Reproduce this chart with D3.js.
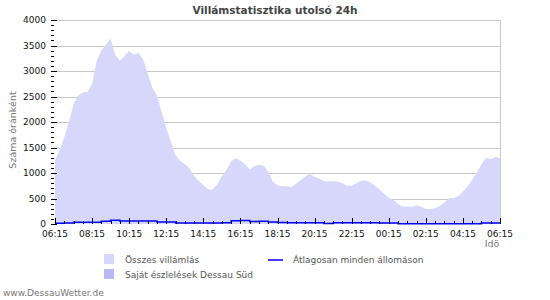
<!doctype html>
<html lang="hu">
<head>
<meta charset="utf-8">
<script src="https://cdnjs.cloudflare.com/ajax/libs/d3/7.8.5/d3.min.js"></script>
<style>
  body { margin: 0; background: #fff; }
  svg text { font-family: "DejaVu Sans", Verdana, sans-serif; }
</style>
</head>
<body>
<script>
// összes villámlás, 15 percenként 06:15-tól 06:15-ig
var totalStrikes = [1250, 1450, 1700, 2000, 2350, 2520, 2580, 2590, 2750, 3200, 3400, 3520, 3630,
  3320, 3200, 3300, 3390, 3320, 3360, 3230, 2950, 2670, 2520, 2200, 1880, 1620, 1350, 1240, 1170,
  1100, 940, 850, 760, 680, 670, 780, 930, 1060, 1230, 1290, 1240, 1170, 1070, 1130, 1160, 1140,
  1030, 830, 760, 740, 740, 720, 790, 860, 935, 980, 925, 890, 840, 840, 840, 835, 800, 750, 750,
  800, 845, 860, 820, 750, 680, 590, 520, 470, 390, 345, 340, 340, 360, 340, 295, 295, 310, 355,
  420, 505, 510, 550, 630, 730, 870, 1010, 1170, 1300, 1270, 1320, 1290];

// saját észlelések (nem látható a képen)
var ownStrikes = [0, 0, 0, 0, 0, 0, 0, 0, 0, 0, 0, 0, 0, 0, 0, 0, 0, 0, 0, 0, 0, 0, 0, 0, 0,
  0, 0, 0, 0, 0, 0, 0, 0, 0, 0, 0, 0, 0, 0, 0, 0, 0, 0, 0, 0, 0, 0, 0, 0];

// átlag minden állomáson, 30 percenként
var avgStations = [15, 20, 35, 35, 35, 55, 75, 60, 60, 60, 60, 40, 40, 20, 20, 20, 20, 20, 25, 65,
  70, 50, 55, 40, 30, 25, 25, 25, 25, 10, 25, 25, 25, 25, 25, 20, 20, 5, 5, 5, 5, 5, 5, 5, 5, 5,
  20, 20, 20];

var xTickLabels = ["06:15", "08:15", "10:15", "12:15", "14:15", "16:15", "18:15", "20:15",
  "22:15", "00:15", "02:15", "04:15", "06:15"];
var yTicks = [0, 500, 1000, 1500, 2000, 2500, 3000, 3500, 4000];

var width = 550, height = 300;
var plotLeft = 55, plotRight = 500, plotTop = 20, plotBottom = 224;

var svg = d3.select("body").append("svg")
    .attr("width", width)
    .attr("height", height);

var x = d3.scaleLinear().domain([0, 24]).range([plotLeft, plotRight]);
var y = d3.scaleLinear().domain([0, 4000]).range([plotBottom, plotTop]);

// gridlines
svg.append("g").selectAll("line")
  .data(yTicks.filter(d => d > 0))
  .join("line")
    .attr("x1", plotLeft).attr("x2", plotRight)
    .attr("y1", d => Math.round(y(d)) + 0.5).attr("y2", d => Math.round(y(d)) + 0.5)
    .attr("stroke", "#c8c8c8");

svg.append("line")
    .attr("x1", plotRight + 0.5).attr("x2", plotRight + 0.5)
    .attr("y1", plotTop).attr("y2", plotBottom)
    .attr("stroke", "#c8c8c8");

// areas
var area15 = d3.area()
    .x((d, i) => x(i / 4))
    .y0(plotBottom)
    .y1(d => y(d));

svg.append("path")
    .datum(totalStrikes)
    .attr("fill", "#d7d7fb")
    .attr("d", area15);

var area30 = d3.area()
    .x((d, i) => x(i / 2))
    .y0(plotBottom)
    .y1(d => y(d));

svg.append("path")
    .datum(ownStrikes)
    .attr("fill", "#b9b9f7")
    .attr("d", area30);

var line30 = d3.line()
    .x((d, i) => x(i / 2))
    .y(d => y(d))
    .curve(d3.curveStepAfter);

svg.append("path")
    .datum(avgStations)
    .attr("fill", "none")
    .attr("stroke", "#0000ff")
    .attr("stroke-width", 1.5)
    .attr("d", line30);

// y axis ticks
var yMinor = d3.range(0, 4001, 100);
svg.append("g").selectAll("line")
  .data(yMinor)
  .join("line")
    .attr("x1", 51)
    .attr("x2", d => d % 500 === 0 ? 57 : 54)
    .attr("y1", d => Math.round(y(d)) + 0.5)
    .attr("y2", d => Math.round(y(d)) + 0.5)
    .attr("stroke", "#000");

svg.append("g").selectAll("text")
  .data(yTicks)
  .join("text")
    .attr("x", 46)
    .attr("y", d => y(d) + 3)
    .attr("text-anchor", "end")
    .attr("font-size", "9px")
    .attr("fill", "#111")
    .text(d => d);

// x axis ticks
var xMinor = d3.range(0, 24.01, 0.5);
svg.append("g").selectAll("line")
  .data(xMinor)
  .join("line")
    .attr("x1", d => Math.round(x(d)) + 0.5)
    .attr("x2", d => Math.round(x(d)) + 0.5)
    .attr("y1", plotBottom)
    .attr("y2", d => d % 2 === 0 ? plotBottom - 6 : plotBottom - 3)
    .attr("stroke", "#000");

svg.append("g").selectAll("text")
  .data(xTickLabels)
  .join("text")
    .attr("x", (d, i) => x(i * 2))
    .attr("y", 237)
    .attr("text-anchor", "middle")
    .attr("font-size", "9px")
    .attr("fill", "#111")
    .text(d => d);

// titles
svg.append("text")
    .attr("x", 275).attr("y", 14)
    .attr("text-anchor", "middle")
    .attr("font-size", "10.5px")
    .attr("font-weight", "bold")
    .attr("fill", "#444")
    .text("Villámstatisztika utolsó 24h");

svg.append("text")
    .attr("transform", "translate(16,130) rotate(-90)")
    .attr("text-anchor", "middle")
    .attr("font-size", "9.5px")
    .attr("fill", "#777")
    .text("Száma óránként");

svg.append("text")
    .attr("x", 492).attr("y", 247)
    .attr("text-anchor", "middle")
    .attr("font-size", "9.5px")
    .attr("fill", "#777")
    .text("Idö");

// legend
var legend = svg.append("g").attr("font-size", "9px").attr("fill", "#555");
legend.append("rect").attr("x", 104).attr("y", 254).attr("width", 10).attr("height", 10).attr("fill", "#d7d7fb");
legend.append("text").attr("x", 125).attr("y", 263).text("Összes villámlás");
legend.append("rect").attr("x", 104).attr("y", 269).attr("width", 10).attr("height", 10).attr("fill", "#b9b9f7");
legend.append("text").attr("x", 125).attr("y", 278).text("Saját észlelések Dessau Süd");
legend.append("line").attr("x1", 268).attr("x2", 283).attr("y1", 260).attr("y2", 260)
    .attr("stroke", "#0000ff").attr("stroke-width", 1.5);
legend.append("text").attr("x", 293).attr("y", 263).text("Átlagosan minden állomáson");

svg.append("text")
    .attr("x", 3).attr("y", 296)
    .attr("font-size", "9px")
    .attr("fill", "#777")
    .text("www.DessauWetter.de");
</script>
</body>
</html>
